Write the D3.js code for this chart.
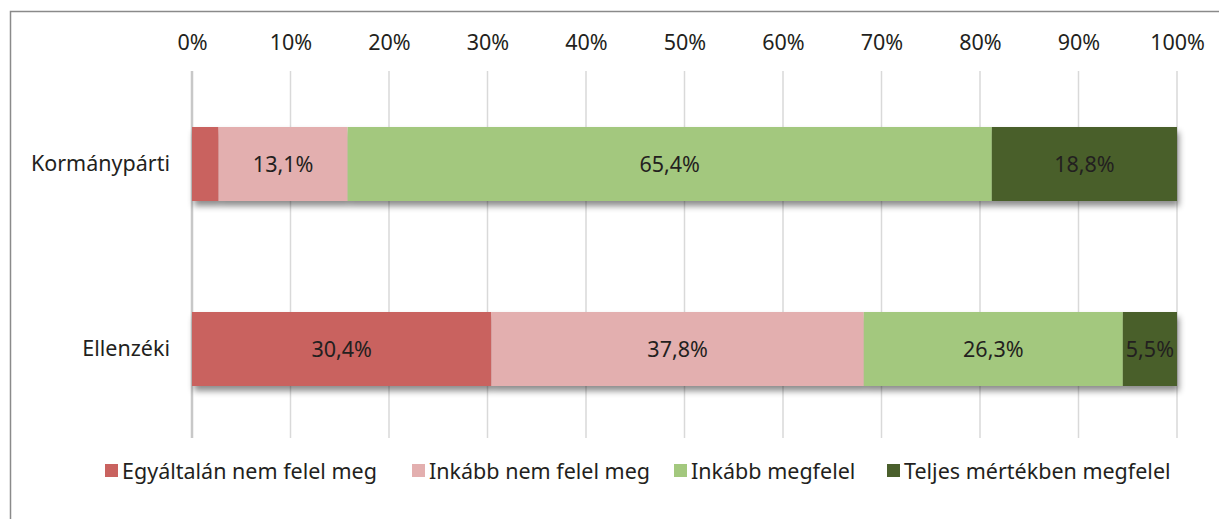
<!DOCTYPE html>
<html>
<head>
<meta charset="utf-8">
<script src="https://cdn.jsdelivr.net/npm/d3@7"></script>
<style>
  body { margin: 0; background: #fff; }
  svg text { font-family: "Noto Sans", "Open Sans", sans-serif; fill: #231f20; }
</style>
</head>
<body>
<svg id="chart" width="1219" height="519"></svg>
<script>
const categories = ['Kormánypárti', 'Ellenzéki']
const seriesNames = ['Egyáltalán nem felel meg', 'Inkább nem felel meg', 'Inkább megfelel', 'Teljes mértékben megfelel']
const kormanyparti = [2.7, 13.1, 65.4, 18.8]
const ellenzeki = [30.4, 37.8, 26.3, 5.5]
const showLabel = [[false, true, true, true], [true, true, true, true]]
const colors = ['#c9625f', '#e3afaf', '#a3c87e', '#4a5f2c']
const tickValues = [0, 10, 20, 30, 40, 50, 60, 70, 80, 90, 100]

const fontSize = 21.5
const svg = d3.select('#chart')

// frame
svg.append('rect')
  .attr('x', 10.5).attr('y', 11.5)
  .attr('width', 1220).attr('height', 520)
  .attr('fill', 'none').attr('stroke', '#8a8a8a').attr('stroke-width', 1.5)

const defs = svg.append('defs')
defs.append('filter')
  .attr('id', 'shadow')
  .attr('x', '-5%').attr('y', '-20%').attr('width', '110%').attr('height', '160%')
  .append('feDropShadow')
  .attr('dx', 2).attr('dy', 5).attr('stdDeviation', 3)
  .attr('flood-color', '#000').attr('flood-opacity', 0.45)

const margin = { left: 192, right: 42, top: 71, bottom: 81 }
const innerW = 1219 - margin.left - margin.right
const innerH = 519 - margin.top - margin.bottom

const g = svg.append('g').attr('transform', `translate(${margin.left},${margin.top})`)

const x = d3.scaleLinear().domain([0, 100]).range([0, innerW])
const y = d3.scaleBand().domain(categories).range([56, 315]).paddingInner(0.6).paddingOuter(0)

// gridlines
g.append('g').selectAll('line')
  .data(tickValues)
  .enter().append('line')
  .attr('x1', d => x(d)).attr('x2', d => x(d))
  .attr('y1', 0).attr('y2', innerH)
  .attr('stroke', d => d === 0 ? '#c8c8c8' : '#d9d9d9')
  .attr('stroke-width', d => d === 0 ? 2.5 : 1.5)

// top axis labels
const xAxis = d3.axisTop(x).tickValues(tickValues).tickSize(0).tickPadding(0)
  .tickFormat(d => d + '%')
const xAxisG = g.append('g').attr('transform', 'translate(0,-21)').call(xAxis)
xAxisG.select('.domain').remove()
xAxisG.selectAll('text').attr('font-size', fontSize).style('font-family', '"Noto Sans", sans-serif').attr('fill', '#231f20')

// category labels
const yAxis = d3.axisLeft(y).tickSize(0).tickPadding(22)
const yAxisG = g.append('g').call(yAxis)
yAxisG.select('.domain').remove()
yAxisG.selectAll('text').attr('font-size', fontSize).style('font-family', '"Noto Sans", sans-serif').attr('fill', '#231f20')

// stacked bars
const rows = [kormanyparti, ellenzeki].map((vals, i) => {
  let acc = 0
  return vals.map((v, j) => {
    const seg = { cat: categories[i], x0: acc, x1: acc + v, v, s: j, label: showLabel[i][j] }
    acc += v
    return seg
  })
})

rows.forEach(segs => {
  const rowG = g.append('g').attr('filter', 'url(#shadow)')
  rowG.selectAll('rect')
    .data(segs)
    .enter().append('rect')
    .attr('x', d => x(d.x0))
    .attr('y', d => y(d.cat))
    .attr('width', d => x(d.x1) - x(d.x0))
    .attr('height', y.bandwidth())
    .attr('fill', d => colors[d.s])
  g.append('g').selectAll('text')
    .data(segs.filter(d => d.label))
    .enter().append('text')
    .attr('x', d => (x(d.x0) + x(d.x1)) / 2)
    .attr('y', d => y(d.cat) + y.bandwidth() / 2)
    .attr('dy', '0.35em')
    .attr('text-anchor', 'middle')
    .attr('font-size', fontSize)
    .text(d => d3.format('.1f')(d.v).replace('.', ',') + '%')
})

// legend
const legendX = [105, 412, 674, 887]
const legend = svg.append('g').attr('transform', 'translate(0,471)')
const items = legend.selectAll('g')
  .data(seriesNames)
  .enter().append('g')
  .attr('transform', (d, i) => `translate(${legendX[i]},0)`)
items.append('rect')
  .attr('x', 0).attr('y', -7).attr('width', 13).attr('height', 13)
  .attr('fill', (d, i) => colors[i])
items.append('text')
  .attr('x', 17).attr('dy', '0.35em')
  .attr('font-size', fontSize)
  .text(d => d)
</script>
</body>
</html>
